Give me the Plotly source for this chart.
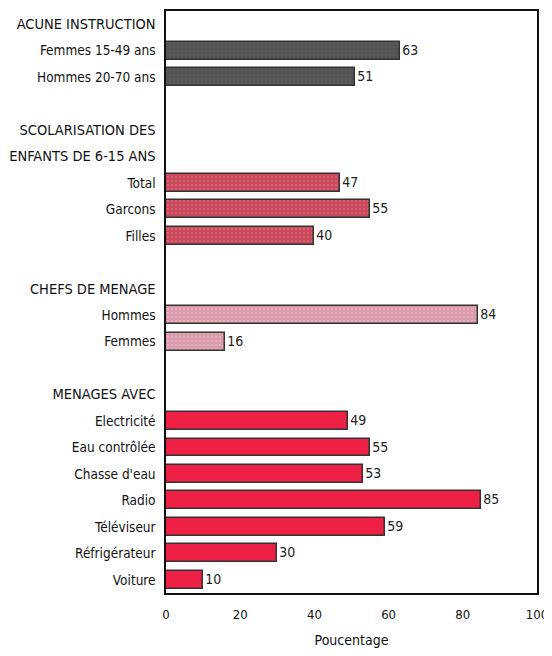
import plotly.graph_objects as go

# ── Data ─────────────────────────────────────────────────────────────────────
instruction_labels = ["Femmes 15-49 ans", "Hommes 20-70 ans"]
instruction_values = [63, 51]

scolarisation_labels = ["Total", "Garcons", "Filles"]
scolarisation_values = [47, 55, 40]

chefs_labels = ["Hommes", "Femmes"]
chefs_values = [84, 16]

menages_labels = ["Electricité", "Eau contrôlée", "Chasse d'eau", "Radio",
                  "Téléviseur", "Réfrigérateur", "Voiture"]
menages_values = [49, 55, 53, 85, 59, 30, 10]

x_ticks = [0, 20, 40, 60, 80, 100]

# group: (header lines, labels, values, fill, pattern fg)
groups = [
    (["ACUNE INSTRUCTION"], instruction_labels, instruction_values, "#575757", "#4a4a4a"),
    (["SCOLARISATION DES", "ENFANTS DE 6-15 ANS"], scolarisation_labels, scolarisation_values,
     "#c9485c", "#e07a88"),
    (["CHEFS DE MENAGE"], chefs_labels, chefs_values, "#d99aab", "#efc6d0"),
    (["MENAGES AVEC"], menages_labels, menages_values, "#ee2046", "#ee2046"),
]

FONT = "DejaVu Sans Condensed, Liberation Sans Narrow, sans-serif"

# ── Layout rows (headers + bars + blank spacer between groups) ───────────────
tickvals, ticktext = [], []
row = 0
fig = go.Figure()
for gi, (headers, labels, values, fill, fg) in enumerate(groups):
    for h in headers:
        tickvals.append(row)
        ticktext.append(f'<span style="font-size:14.5px">{h}</span>')
        row += 1
    ys = list(range(row, row + len(labels)))
    tickvals += ys
    ticktext += labels
    row += len(labels)
    fig.add_trace(go.Bar(
        x=values, y=ys, orientation="h",
        width=0.68,
        marker=dict(
            color=fill,
            line=dict(color="#333333", width=1.5),
            pattern=dict(shape="." if fg != fill else "", fgcolor=fg,
                         size=4, solidity=0.3),
        ),
        text=[str(v) for v in values], textposition="outside",
        textfont=dict(family=FONT, size=14, color="#222222"),
        cliponaxis=False,
        showlegend=False,
    ))
    if gi < len(groups) - 1:
        row += 1  # blank spacer

n_rows = row

# page body has an 8px margin, so the figure is sized to fill the rest
fig.update_layout(
    width=544, height=648,
    margin=dict(l=158, r=15, t=3, b=63),
    paper_bgcolor="white", plot_bgcolor="white",
    font=dict(family=FONT, size=13.5, color="#111111"),
    bargap=0,
    xaxis=dict(
        range=[0, 100], tickvals=x_ticks, showgrid=False, zeroline=False,
        showline=True, linecolor="#111111", linewidth=1.5, mirror=True,
        ticks="", tickfont=dict(size=13), ticklabelstandoff=9,
        ticklabeloverflow="allow",
        title=dict(text="Poucentage", font=dict(size=14), standoff=14),
        automargin=False,
    ),
    yaxis=dict(
        range=[n_rows - 0.5, -0.5], tickvals=tickvals, ticktext=ticktext,
        showgrid=False, zeroline=False,
        showline=True, linecolor="#111111", linewidth=1.5, mirror=True,
        ticks="", ticklabelstandoff=6, tickfont=dict(size=13.5),
        ticklabeloverflow="allow",
        automargin=False,
    ),
)

fig.write_html("out.html")
